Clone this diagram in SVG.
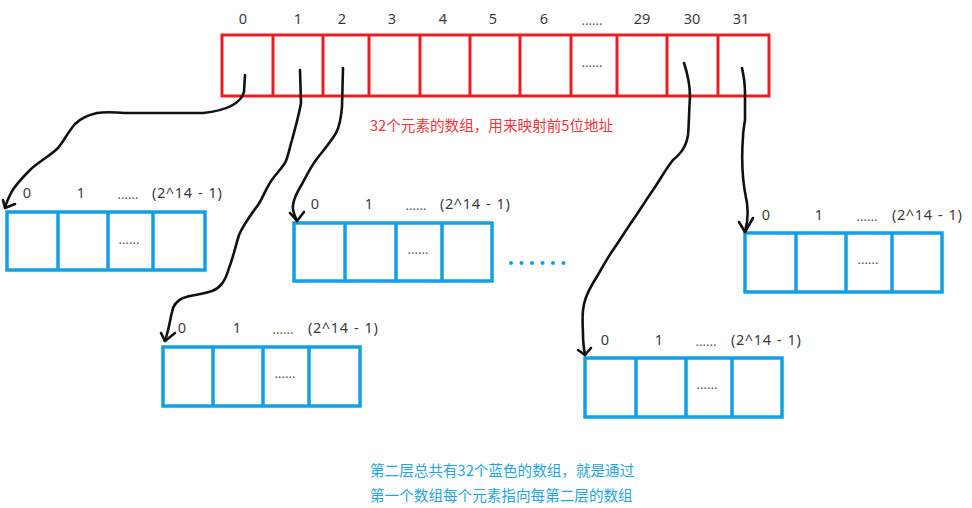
<svg xmlns="http://www.w3.org/2000/svg" width="972" height="508" viewBox="0 0 972 508">
<defs>
<style>
.red{fill:none;stroke:#ED1C24;stroke-width:3}
.blue{fill:none;stroke:#12A0E3;stroke-width:3.5}
.lbl{font-family:"Noto Sans","Noto Sans CJK SC",sans-serif;font-size:14.5px;fill:#3a3a3a}
.rng{letter-spacing:0.6px;word-spacing:1px}
.dots{font-family:"Noto Sans",sans-serif;font-size:13px;fill:#555}
.wire{fill:none;stroke:#111;stroke-width:2.6;stroke-linecap:round;stroke-linejoin:round}
.cap{font-family:"Noto Sans CJK SC","Noto Sans",sans-serif;font-size:14.6px}
</style>
</defs>
<rect width="972" height="508" fill="#fff"/>

<g id="top-array">
<rect class="red" x="222" y="35" width="547" height="61"/>
<path class="red" d="M273 35V96M323 35V96M369 35V96M420 35V96M470 35V96M520 35V96M571 35V96M617 35V96M667 35V96M718 35V96"/>
<g class="lbl" text-anchor="middle">
<text x="243" y="24">0</text><text x="298" y="24">1</text><text x="342" y="24">2</text>
<text x="392" y="24">3</text><text x="443" y="24">4</text><text x="493" y="24">5</text>
<text x="544" y="24">6</text><text x="642" y="24">29</text><text x="692" y="24">30</text><text x="741" y="24">31</text>
</g>
<text class="dots" x="592" y="25" text-anchor="middle">......</text>
<text class="dots" x="592" y="67" text-anchor="middle">......</text>
<text class="cap" x="370" y="131" fill="#F0353A">32个元素的数组，用来映射前5位地址</text>
</g>

<g id="array-a">
<rect class="blue" x="7" y="212" width="198" height="58"/>
<path class="blue" d="M58 212V270M108 212V270M153 212V270"/>
<g class="lbl" text-anchor="middle"><text x="27" y="198">0</text><text x="81" y="198">1</text></g>
<text class="dots" x="128" y="199" text-anchor="middle">......</text>
<text class="lbl rng" x="152" y="198">(2^14 - 1)</text>
<text class="dots" x="129" y="244" text-anchor="middle">......</text>
</g>

<g id="array-b">
<rect class="blue" x="294" y="223" width="198" height="58"/>
<path class="blue" d="M345 223V281M396 223V281M442 223V281"/>
<g class="lbl" text-anchor="middle"><text x="315" y="209">0</text><text x="369" y="209">1</text></g>
<text class="dots" x="416" y="210" text-anchor="middle">......</text>
<text class="lbl rng" x="440" y="209">(2^14 - 1)</text>
<text class="dots" x="418" y="254" text-anchor="middle">......</text>
</g>

<g id="more-dots" fill="#12A0E3">
<circle cx="511" cy="263" r="2"/><circle cx="521.5" cy="263" r="2"/><circle cx="532" cy="263" r="2"/>
<circle cx="542.5" cy="263" r="2"/><circle cx="553" cy="263" r="2"/><circle cx="563.5" cy="263" r="2"/>
</g>

<g id="array-c">
<rect class="blue" x="163" y="347" width="197" height="59"/>
<path class="blue" d="M213 347V406M263 347V406M309 347V406"/>
<g class="lbl" text-anchor="middle"><text x="182" y="333">0</text><text x="237" y="333">1</text></g>
<text class="dots" x="283" y="334" text-anchor="middle">......</text>
<text class="lbl rng" x="308" y="333">(2^14 - 1)</text>
<text class="dots" x="285" y="378" text-anchor="middle">......</text>
</g>

<g id="array-d">
<rect class="blue" x="585" y="358" width="197" height="59"/>
<path class="blue" d="M636 358V417M686 358V417M732 358V417"/>
<g class="lbl" text-anchor="middle"><text x="605" y="345">0</text><text x="659" y="345">1</text></g>
<text class="dots" x="706" y="346" text-anchor="middle">......</text>
<text class="lbl rng" x="731" y="345">(2^14 - 1)</text>
<text class="dots" x="707" y="389" text-anchor="middle">......</text>
</g>

<g id="array-e">
<rect class="blue" x="745" y="233" width="197" height="59"/>
<path class="blue" d="M796 233V292M846 233V292M892 233V292"/>
<g class="lbl" text-anchor="middle"><text x="766" y="220">0</text><text x="819" y="220">1</text></g>
<text class="dots" x="867" y="221" text-anchor="middle">......</text>
<text class="lbl rng" x="892" y="220">(2^14 - 1)</text>
<text class="dots" x="868" y="264" text-anchor="middle">......</text>
</g>

<g id="connectors" class="wire">
<path d="M245 75 L244 92 C240 106 222 111 203 113 L125 113 C112 112 104 112 97 113 C88 115 80 119 75 124 C68 132 64 141 58 148 C50 156 38 162 30 170 C22 178 14 187 11 193 C8 199 6 203 5 208"/>
<path d="M3 200 L5 208 L15 204"/>
<path d="M300 70 L301 103 C299 115 296 125 292 140 C289 150 288 157 285 163 C281 169 278 172 274 177 C266 187 264 196 258 205 C250 216 243 225 239 235 C235 248 233 258 229 268 C225 282 220 288 212 291 C200 295 190 295 183 298 C176 301 173 306 172 312 C170 320 169 328 167 334 L165 341"/>
<path d="M161 333 L165 341 L175 333"/>
<path d="M343 68 L342 107 C341 118 340 126 336 133 C330 143 322 152 316 160 C310 168 306 177 302 184 C297 192 294 198 293 205 C292 211 295 216 297 221"/>
<path d="M290 213 L297 221 L304 212"/>
<path d="M684 63 C688 75 690 86 690 97 C689 110 689 125 688 135 C686 148 680 154 673 160 C665 170 660 180 653 190 C646 200 640 210 633 220 C626 230 620 240 613 250 C606 260 600 272 593 283 C587 293 584 300 583 310 C582 320 583 330 583 335 C583 343 584 349 585 355"/>
<path d="M578 350 L585 355 L591 348"/>
<path d="M742 68 C744 77 745 85 745 93 C745 103 745 112 745 120 C744 127 743 131 743 137 C742 150 742 165 743 177 C744 190 746 197 747 203 C748 210 748 215 747 222 L745 232"/>
<path d="M739 222 L745 232 L753 218"/>
</g>

<g id="footer" class="cap" fill="#1FA5E0">
<text x="370" y="476">第二层总共有32个蓝色的数组，就是通过</text>
<text x="370" y="501">第一个数组每个元素指向每第二层的数组</text>
</g>
</svg>
